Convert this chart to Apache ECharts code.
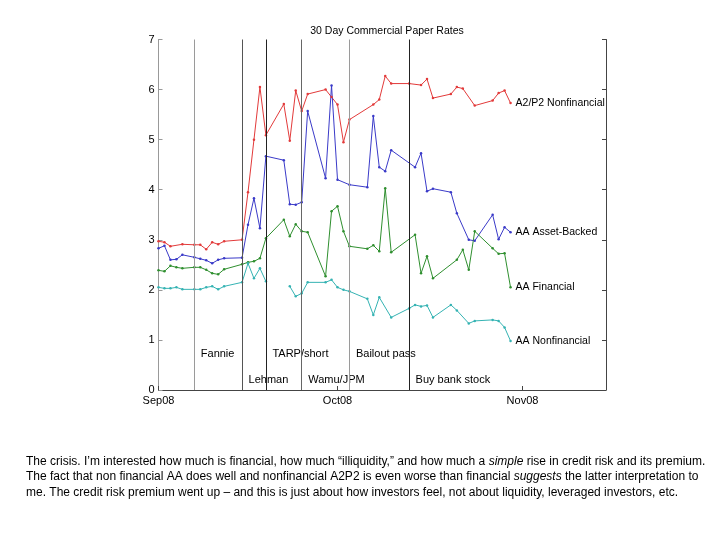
<!DOCTYPE html>
<html>
<head>
<meta charset="utf-8">
<script src="https://cdn.jsdelivr.net/npm/echarts@6/dist/echarts.min.js"></script>
<style>
  html, body { margin: 0; padding: 0; background: #fff; }
  #chart { width: 720px; height: 540px; }
</style>
</head>
<body>
<div id="chart"></div>
<script>
// ---- Data (x = days after 1 Sep 2008) ----
const titleText = '30 Day Commercial Paper Rates';

const xTickDays = [0, 30, 61];
const xTickLabels = ['Sep08', 'Oct08', 'Nov08'];
const yTicks = [0, 1, 2, 3, 4, 5, 6, 7];

const seriesNames = ['A2/P2 Nonfinancial', 'AA Asset-Backed', 'AA Financial', 'AA Nonfinancial'];

const a2p2Days = [0, 1, 2, 4, 6, 7, 8, 9, 10, 11, 14, 15, 16, 17, 18, 21, 22, 23, 24, 25, 28, 29, 30, 31, 32, 36, 37, 38, 39, 42, 44, 45, 46, 49, 50, 51, 53, 56, 57, 58, 59];
const a2p2Vals = [2.97, 2.95, 2.87, 2.91, 2.90, 2.90, 2.81, 2.95, 2.91, 2.97, 3.00, 3.95, 5.00, 6.05, 5.09, 5.71, 4.98, 5.98, 5.57, 5.91, 6.00, 5.85, 5.70, 4.95, 5.40, 5.70, 5.80, 6.27, 6.12, 6.12, 6.09, 6.21, 5.83, 5.91, 6.05, 6.02, 5.68, 5.78, 5.93, 5.98, 5.73];

const assetBackedDays = [0, 1, 2, 3, 4, 6, 7, 8, 9, 10, 11, 14, 15, 16, 17, 18, 21, 22, 23, 24, 25, 28, 29, 30, 32, 35, 36, 37, 38, 39, 43, 44, 45, 46, 49, 50, 52, 53, 56, 57, 58, 59];
const assetBackedVals = [2.83, 2.88, 2.60, 2.61, 2.70, 2.65, 2.62, 2.59, 2.53, 2.60, 2.63, 2.64, 3.30, 3.83, 3.23, 4.67, 4.59, 3.71, 3.70, 3.75, 5.57, 4.23, 6.08, 4.20, 4.10, 4.05, 5.47, 4.45, 4.37, 4.79, 4.45, 4.73, 3.97, 4.02, 3.95, 3.53, 3.00, 2.98, 3.50, 3.01, 3.25, 3.15];

const financialDays = [0, 1, 2, 3, 4, 6, 7, 8, 9, 10, 11, 14, 15, 16, 17, 18, 21, 22, 23, 24, 25, 28, 29, 30, 31, 32, 35, 36, 37, 38, 39, 43, 44, 45, 46, 50, 51, 52, 53, 56, 57, 58, 59];
const financialVals = [2.39, 2.37, 2.48, 2.45, 2.43, 2.45, 2.45, 2.40, 2.33, 2.31, 2.41, 2.51, 2.55, 2.57, 2.63, 3.03, 3.40, 3.07, 3.31, 3.17, 3.15, 2.27, 3.57, 3.67, 3.17, 2.87, 2.82, 2.89, 2.77, 4.03, 2.75, 3.10, 2.33, 2.67, 2.23, 2.60, 2.80, 2.40, 3.17, 2.83, 2.72, 2.73, 2.05];

const nonfinancialDays = [0, 1, 2, 3, 4, 6, 7, 8, 9, 10, 11, 14, 15, 16, 17, 18, 20, 22, 23, 24, 25, 28, 29, 30, 31, 32, 35, 36, 37, 39, 42, 43, 44, 45, 46, 49, 50, 52, 53, 56, 57, 58, 59];
const nonfinancialVals = [2.05, 2.03, 2.03, 2.05, 2.01, 2.01, 2.01, 2.05, 2.07, 2.01, 2.07, 2.15, 2.53, 2.23, 2.43, 2.17, null, 2.07, 1.87, 1.93, 2.15, 2.15, 2.20, 2.05, 2.00, 1.97, 1.82, 1.50, 1.85, 1.45, 1.63, 1.70, 1.67, 1.69, 1.45, 1.70, 1.59, 1.33, 1.38, 1.40, 1.38, 1.25, 0.98];

const eventDays = [6, 14, 18, 24, 32, 42];
const eventNames = ['Fannie', 'Lehman', 'TARP/short', 'Wamu/JPM', 'Bailout pass', 'Buy bank stock'];

const captionLines = [
  'The crisis. I\u2019m interested how much is financial, how much \u201cilliquidity,\u201d and how much a {i|simple} rise in credit risk and its premium.',
  'The fact that non financial AA does well and nonfinancial A2P2 is even worse than financial {i|suggests} the latter interpretation to',
  'me. The credit risk premium went up \u2013 and this is just about how investors feel, not about liquidity, leveraged investors, etc.'
];

// ---- Build chart ----
const FONT = 'Liberation Sans, Arial, Helvetica, sans-serif';
const lineColors = ['#e23a3a', '#3a3ac8', '#2f8f2f', '#35b3b3'];
const eventColors = ['#9a9a9a', '#555555', '#222222', '#666666', '#9a9a9a', '#222222'];

function zip(days, vals) {
  return days.map((d, i) => [d, vals[i] === null ? '-' : vals[i]]);
}
const allDays = [a2p2Days, assetBackedDays, financialDays, nonfinancialDays];
const allVals = [a2p2Vals, assetBackedVals, financialVals, nonfinancialVals];

const lineSeries = seriesNames.map((name, k) => ({
  name: name,
  type: 'line',
  xAxisIndex: 0,
  yAxisIndex: 0,
  data: zip(allDays[k], allVals[k]),
  symbol: 'circle',
  symbolSize: 2.5,
  showSymbol: true,
  connectNulls: false,
  lineStyle: { color: lineColors[k], width: 1 },
  itemStyle: { color: lineColors[k] },
  endLabel: {
    show: true,
    formatter: name,
    distance: 5,
    color: '#000',
    fontSize: 10.5,
    fontFamily: FONT
  },
  z: 3
}));

const eventSeries = {
  type: 'scatter',
  data: eventDays.map((d, i) => ({ value: [d, i % 2 === 0 ? 0.72 : 0.2], name: eventNames[i] })),
  symbolSize: 1,
  itemStyle: { color: 'rgba(0,0,0,0)' },
  label: {
    show: true,
    position: 'right',
    distance: 6,
    formatter: p => p.name,
    color: '#000',
    opacity: 1,
    textBorderWidth: 0,
    fontSize: 11,
    fontFamily: FONT
  },
  markLine: {
    silent: true,
    symbol: ['none', 'none'],
    label: { show: false },
    lineStyle: { type: 'solid', width: 1 },
    data: eventDays.map((d, i) => ({ xAxis: d, lineStyle: { color: eventColors[i], type: 'solid', width: 1 } }))
  },
  z: 2
};

const chart = echarts.init(document.getElementById('chart'), null, { renderer: 'canvas' });
chart.setOption({
  animation: false,
  backgroundColor: '#fff',
  title: {
    text: titleText,
    left: 382,
    top: 21,
    textAlign: 'center',
    textStyle: { fontSize: 10.5, fontWeight: 'normal', color: '#000', fontFamily: FONT }
  },
  grid: { left: 158.5, right: 114, top: 39.5, bottom: 150, containLabel: false },
  xAxis: {
    type: 'value',
    min: 0,
    max: 75,
    axisLine: { show: true, lineStyle: { color: '#444', width: 1 } },
    axisTick: { show: true, inside: true, length: 4, customValues: xTickDays, lineStyle: { color: '#444' } },
    axisLabel: {
      customValues: xTickDays,
      formatter: v => xTickLabels[xTickDays.indexOf(v)] || '',
      color: '#000', fontSize: 11, fontFamily: FONT, margin: 5
    },
    splitLine: { show: false }
  },
  yAxis: [{
    type: 'value',
    min: 0,
    max: 7,
    interval: 1,
    axisLine: { show: true, lineStyle: { color: '#999', width: 1 } },
    axisTick: { show: true, inside: true, length: 4, lineStyle: { color: '#999' } },
    axisLabel: {
      formatter: v => yTicks.indexOf(v) >= 0 ? String(v) : '',
      color: '#000', fontSize: 11, fontFamily: FONT, margin: 4
    },
    splitLine: { show: false }
  }, {
    type: 'value',
    position: 'right',
    min: 0,
    max: 7,
    interval: 1,
    axisLine: { show: true, lineStyle: { color: '#444', width: 1 } },
    axisTick: { show: true, inside: true, length: 4, lineStyle: { color: '#444' } },
    axisLabel: { show: false },
    splitLine: { show: false }
  }],
  series: [eventSeries].concat(lineSeries),
  graphic: [{
    type: 'text',
    left: 26,
    top: 454,
    style: {
      text: captionLines.join('\n'),
      fontSize: 12,
      fontFamily: FONT,
      fill: '#000',
      lineHeight: 15.3,
      rich: {
        i: { fontStyle: 'italic', fontSize: 12, fontFamily: FONT, fill: '#000', lineHeight: 15.3 }
      }
    }
  }]
});
</script>
</body>
</html>
